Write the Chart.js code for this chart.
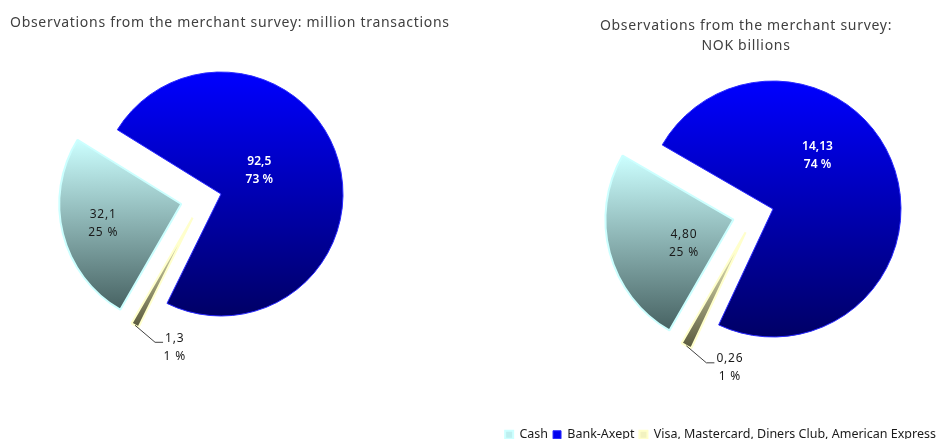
<!DOCTYPE html>
<html>
<head>
<meta charset="utf-8">
<script src="https://cdn.jsdelivr.net/npm/chart.js@4.4.1/dist/chart.umd.min.js"></script>
<style>
  html, body { margin: 0; padding: 0; background: #fff; }
  #wrap { position: relative; width: 941px; height: 439px; overflow: hidden; }
  .pane { position: absolute; top: 0; }
  .title { position: absolute; color: #404040; font-family: "Noto Sans", sans-serif; font-size: 14px; letter-spacing: 0.7px; white-space: nowrap; }
  #countTitle { left: 10px; top: 12px; line-height: 20px; }
  #valueTitle { left: 556px; width: 380px; top: 15px; line-height: 20px; text-align: center; }
</style>
</head>
<body>
<div id="wrap">
  <div class="pane" style="left:0"><canvas id="countChart" width="470" height="439"></canvas></div>
  <div class="pane" style="left:470px"><canvas id="valueChart" width="471" height="439"></canvas></div>
  <div class="title" id="countTitle">Observations from the merchant survey: million transactions</div>
  <div class="title" id="valueTitle">Observations from the merchant survey:<br>NOK billions</div>
</div>
<script>
// ---- data ----
const categories = ['Cash', 'Bank-Axept', 'Visa, Mastercard, Diners Club, American Express'];
const transactionsMillions = [32.1, 92.5, 1.3];
const valueNokBillions = [4.80, 14.13, 0.26];

// ---- colours ----
const sliceTop    = ['#CCFFFF', '#0000FF', '#FFFFCC'];
const sliceBottom = ['#476262', '#000066', '#5A5A3E'];
const sliceFlat   = ['#BDEFEF', '#0000EE', '#F2F2C0'];
const sliceEdge   = ['#CCFFFF', '#2A2AFF', '#FFFFCC'];

const num = (v, d) => v.toFixed(d).replace('.', ',');

// pulls slices out of the pie and gives each one its own top-to-bottom gradient
const sliceStyle = {
  id: 'sliceStyle',
  afterDatasetUpdate(chart, args, opts) {
    const ctx = chart.ctx;
    args.meta.data.forEach((arc, i) => {
      const mid = (arc.startAngle + arc.endAngle) / 2 + (opts.turn[i] || 0) * Math.PI / 180;
      arc.x += Math.cos(mid) * opts.explode[i];
      arc.y += Math.sin(mid) * opts.explode[i];
      let top = arc.y, bottom = arc.y;
      for (let k = 0; k <= 48; k++) {
        const a = arc.startAngle + (arc.endAngle - arc.startAngle) * k / 48;
        const y = arc.y + Math.sin(a) * arc.outerRadius;
        top = Math.min(top, y); bottom = Math.max(bottom, y);
      }
      const g = ctx.createLinearGradient(0, top, 0, bottom);
      g.addColorStop(0, sliceTop[i]);
      g.addColorStop(1, sliceBottom[i]);
      arc.options = Object.assign({}, arc.options, { backgroundColor: g });
    });
  }
};

// value + percent labels, the small slice gets a leader line
const sliceLabels = {
  id: 'sliceLabels',
  afterDatasetsDraw(chart, args, opts) {
    const ctx = chart.ctx;
    const data = chart.data.datasets[0].data;
    const total = data.reduce((s, v) => s + v, 0);
    chart.getDatasetMeta(0).data.forEach((arc, i) => {
      const lines = [num(data[i], opts.decimals), Math.round(data[i] / total * 100) + ' %'];
      const spot = opts.spots[i];
      const mid = (arc.startAngle + arc.endAngle) / 2;
      ctx.save();
      ctx.textBaseline = 'middle';
      ctx.textAlign = 'center';
      ctx.letterSpacing = spot.bold ? '0px' : '0.8px';
      if (spot.leader) {
        ctx.font = '12px "Noto Sans"';
        const tx = arc.x + Math.cos(mid) * arc.outerRadius;
        const ty = arc.y + Math.sin(mid) * arc.outerRadius;
        const ex = tx + 20, ey = ty + 17;
        ctx.strokeStyle = '#404040'; ctx.lineWidth = 1;
        ctx.beginPath(); ctx.moveTo(tx, ty); ctx.lineTo(ex, ey); ctx.lineTo(ex + 8, ey); ctx.stroke();
        const cx = ex + 10 + ctx.measureText(lines[0]).width / 2;
        ctx.fillStyle = '#1A1A1A';
        ctx.fillText(lines[0], cx, ey - 4);
        ctx.fillText(lines[1], cx, ey + 14);
      } else {
        ctx.font = (spot.bold ? '600 ' : '') + '12px "Noto Sans"';
        const a = mid + spot.turn * Math.PI / 180, d = spot.r * arc.outerRadius;
        const x = arc.x + Math.cos(a) * d, y = arc.y + Math.sin(a) * d;
        ctx.fillStyle = spot.color;
        ctx.fillText(lines[0], x, y - 9);
        ctx.fillText(lines[1], x, y + 9);
      }
      ctx.restore();
    });
  }
};

// places the pie box, so the legend can run wider than the pie
const pieBox = {
  id: 'pieBox',
  afterLayout(chart, args, opts) {
    const a = chart.chartArea, h = opts.half;
    a.left = opts.x - h; a.right = opts.x + h; a.width = 2 * h;
    a.top = opts.y - h; a.bottom = opts.y + h; a.height = 2 * h;
  }
};

function pieConfig(values, o) {
  return {
    type: 'pie',
    data: {
      labels: categories,
      datasets: [{
        data: values,
        backgroundColor: sliceFlat,
        borderColor: sliceEdge,
        borderWidth: [2, 1, 2],
        clip: false,
      }]
    },
    options: {
      responsive: false, animation: false, events: [],
      rotation: 210, radius: o.radius,
      layout: { padding: { bottom: -12 } },
      plugins: {
        legend: o.legend ? {
          position: 'bottom', align: 'end',
          labels: { color: '#1A1A1A', font: { family: 'Noto Sans', size: 12.5 }, boxWidth: 8, boxHeight: 8, padding: 5 }
        } : { display: false },
        tooltip: { enabled: false },
        pieBox: { x: o.x, y: o.y, half: o.radius + 60 },
        sliceStyle: { explode: o.explode, turn: o.turn },
        sliceLabels: { decimals: o.decimals, spots: o.spots },
      }
    },
    plugins: [pieBox, sliceStyle, sliceLabels]
  };
}

document.addEventListener('DOMContentLoaded', () => {

  // ---- Left: million transactions ----
  new Chart(document.getElementById('countChart'), pieConfig(transactionsMillions, {
    x: 221, y: 194, radius: 122, decimals: 1, legend: false,
    explode: [41, 0, 37], turn: [0, 0, 22],
    spots: [
      { r: 0.66, turn: 0, color: '#1A1A1A' },
      { r: 0.37, turn: -16, color: '#FFFFFF', bold: true },
      { leader: true },
    ]
  }));

  // ---- Right: NOK billions ----
  new Chart(document.getElementById('valueChart'), pieConfig(valueNokBillions, {
    x: 303, y: 209, radius: 128, decimals: 2, legend: true,
    explode: [41, 0, 36], turn: [0, 0, 22],
    spots: [
      { r: 0.43, turn: -11, color: '#1A1A1A' },
      { r: 0.545, turn: -33, color: '#FFFFFF', bold: true },
      { leader: true },
    ]
  }));
});
</script>
</body>
</html>
